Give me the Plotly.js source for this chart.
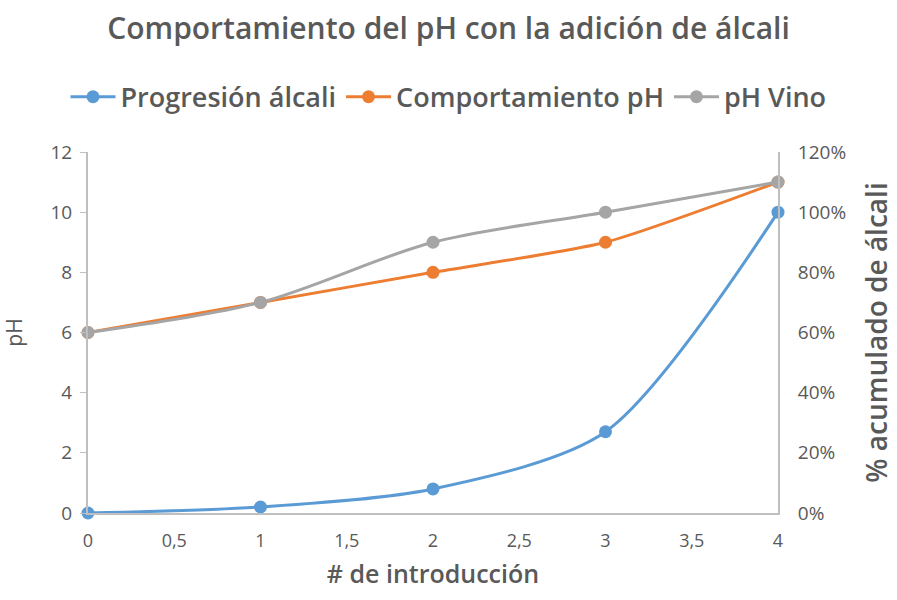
<!DOCTYPE html>
<html>
<head>
<meta charset="utf-8">
<script src="https://cdn.plot.ly/plotly-3.0.1.min.js"></script>
<style>html,body{margin:0;padding:0;background:#fff;}#chart{width:897px;height:600px;}</style>
</head>
<body>
<div id="chart"></div>
<script>
const introducciones = [0, 1, 2, 3, 4];
const progresionAlcali = [0, 2, 8, 27, 100]; // %
const comportamientoPH = [6, 7, 8, 9, 11];
const phVino = [6, 7, 9, 10, 11];
const seriesNames = ['Progresión álcali', 'Comportamiento pH', 'pH Vino'];
const xTicks = [0, 0.5, 1, 1.5, 2, 2.5, 3, 3.5, 4];
const phTicks = [0, 2, 4, 6, 8, 10, 12];
const pctTicks = [0, 20, 40, 60, 80, 100, 120];
const pctLabels = pctTicks.map(v => v + '%');

const font = '"Open Sans", sans-serif';
const grey = '#595959';
const W = 897;

const traces = [
  {x: introducciones, y: progresionAlcali, name: seriesNames[0], yaxis: 'y2', mode: 'lines+markers', cliponaxis: false,
   line: {color: '#5B9BD5', width: 3, shape: 'spline', smoothing: 0.8}, marker: {color: '#5B9BD5', size: 13}},
  {x: introducciones, y: comportamientoPH, name: seriesNames[1], mode: 'lines+markers', cliponaxis: false,
   line: {color: '#ED7D31', width: 3, shape: 'spline', smoothing: 0.6}, marker: {color: '#ED7D31', size: 13}},
  {x: introducciones, y: phVino, name: seriesNames[2], mode: 'lines+markers', cliponaxis: false,
   line: {color: '#A5A5A5', width: 3, shape: 'spline', smoothing: 0.9}, marker: {color: '#A5A5A5', size: 13}}
];

const layout = {
  width: W, height: 600,
  margin: {l: 0, r: 0, t: 152, b: 87},
  paper_bgcolor: '#fff', plot_bgcolor: '#fff',
  separators: ',.',
  font: {family: font, color: grey, size: 18},
  title: {text: 'Comportamiento del pH con la adición de álcali', font: {family: font, size: 30, color: grey, weight: 600},
          x: 0.5, xanchor: 'center', y: 0.952, yanchor: 'middle'},
  showlegend: true,
  legend: {orientation: 'h', xref: 'container', yref: 'container', x: 0.5, xanchor: 'center', y: 0.838, yanchor: 'middle',
           font: {family: font, size: 27, color: grey, weight: 600}, itemwidth: 45, traceorder: 'normal'},
  xaxis: {domain: [88 / W, 778 / W], automargin: false, range: [0, 4], tickvals: xTicks, showgrid: false, zeroline: false,
          showline: true, linecolor: '#BFBFBF', linewidth: 2, ticks: '', ticklabelstandoff: 10,
          tickfont: {size: 18, color: grey},
          title: {text: '# de introducción', font: {size: 25, color: grey, weight: 600}, standoff: 15}},
  yaxis: {automargin: false, range: [0, 12], tickvals: phTicks, showgrid: false, zeroline: false,
          showline: true, linecolor: '#BFBFBF', linewidth: 2, ticks: 'outside', ticklen: 6, tickcolor: '#BFBFBF',
          tickfont: {size: 19, color: grey}, ticklabelstandoff: 4,
          title: {text: 'pH', font: {size: 21, color: grey}, standoff: 24}},
  yaxis2: {automargin: false, range: [0, 120], tickvals: pctTicks, ticktext: pctLabels, overlaying: 'y', side: 'right',
           showgrid: false, zeroline: false, showline: true, linecolor: '#BFBFBF', linewidth: 2, ticks: '',
           tickfont: {size: 19, color: grey}, ticklabelstandoff: 14,
           title: {text: '% acumulado de álcali', font: {size: 28, color: grey, weight: 600}, standoff: 22}}
};

Plotly.newPlot('chart', traces, layout, {displayModeBar: false, staticPlot: true});
</script>
</body>
</html>
